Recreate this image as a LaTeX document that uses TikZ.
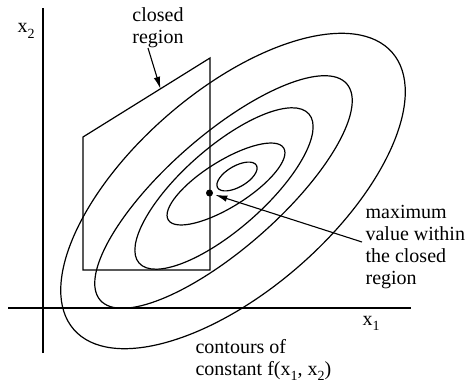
\documentclass[tikz,border=0pt]{standalone}
\usepackage{fontspec}
\setmainfont{Liberation Serif}
\usetikzlibrary{arrows.meta,calc}
\newcommand{\lsub}[1]{\raisebox{-0.27em}{\fontsize{14}{14}\selectfont #1}}
\begin{document}
\begin{tikzpicture}[x=1pt,y=-1pt,line width=1.2pt,
  lbl/.style={font=\fontsize{20}{22}\selectfont, inner sep=0pt},
  arr/.style={-{Latex[length=12pt,width=6.5pt]}, line width=1.1pt},
  contour/.style={line width=1.2pt}]
\useasboundingbox (0,0) rectangle (468,385);
% axes
\coordinate (ytop) at (43,8);
\coordinate (ybot) at (43,353);
\coordinate (xl) at (8,308);
\coordinate (xr) at (411,308);
\draw (ybot) -- (ytop);
\draw (xl) -- (xr);
\node[lbl, anchor=base west] (x2) at (17,33) {x\lsub{2}};
\node[lbl, anchor=base west] (x1) at (362,325) {x\lsub{1}};
% closed region
\coordinate (bl) at (83,270);
\coordinate (tl) at (83,137);
\coordinate (tr) at (210,58);
\coordinate (br) at (210,270);
\draw (bl) -- (tl) -- (tr) -- (br) -- cycle;
% contours
\coordinate (c1) at (237,176.5);
\coordinate (c2) at (226,184);
\coordinate (c3) at (224,188.5);
\coordinate (c4) at (223.5,192);
\coordinate (c5) at (233,191);
\draw[contour, rotate around={30:(c1)}] (c1) ellipse [x radius=22.4, y radius=10.5];
\draw[contour, rotate around={32:(c2)}] (c2) ellipse [x radius=68, y radius=23];
\draw[contour, rotate around={41.3:(c3)}] (c3) ellipse [x radius=113, y radius=41];
\draw[contour, rotate around={41.3:(c4)}] (c4) ellipse [x radius=164, y radius=56.5];
\draw[contour, rotate around={41:(c5)}] (c5) ellipse [x radius=211, y radius=100];
% maximum point
\node[circle, fill, inner sep=0pt, minimum size=7pt] (dot) at (209.5,193) {};
% labels (base anchor = baseline of the last line)
\node[lbl, align=center, anchor=base] (closedlbl) at (158,43.5) {closed\\region};
\node[lbl, align=left, anchor=base west] (maxlbl) at (365,284) {maximum\\value within\\the closed\\region};
\node[lbl, align=left, anchor=base west] (contlbl) at (195,375) {contours of\\constant f(x\lsub{1}, x\lsub{2})};
% arrows
\coordinate (closedtail) at (148,48);
\coordinate (closedtip) at ($(tl)!0.61!(tr)$);
\draw[arr] (closedtail) -- (closedtip);
\coordinate (maxtail) at (362,242);
\draw[arr, shorten >=2pt] (maxtail) -- (dot);
\end{tikzpicture}
\end{document}
